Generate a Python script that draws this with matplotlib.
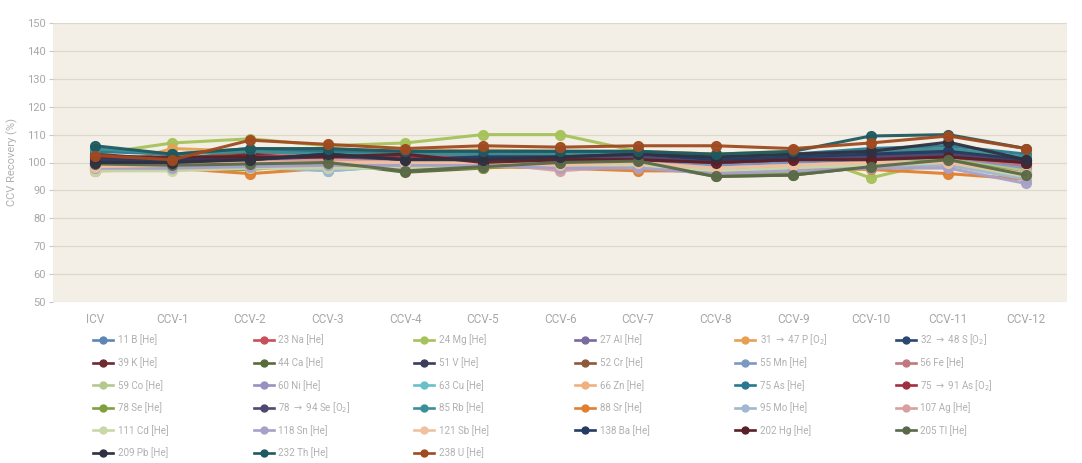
import matplotlib
matplotlib.use("Agg")
import matplotlib.pyplot as plt
from matplotlib.lines import Line2D

plt.rcParams['font.family'] = ['Roboto', 'DejaVu Sans']

# Sample points
points = ['ICV', 'CCV-1', 'CCV-2', 'CCV-3', 'CCV-4', 'CCV-5', 'CCV-6',
          'CCV-7', 'CCV-8', 'CCV-9', 'CCV-10', 'CCV-11', 'CCV-12']

# Recovery values (%) per element
b11 = [100, 99, 100, 101, 102, 101, 101, 102, 100, 101, 101, 102, 99]
na23 = [101, 100, 103, 104, 103, 102, 102, 102, 101, 101, 102, 103, 100]
mg24 = [103, 107, 108.5, 106, 107, 110, 110, 104, 103, 104, 94.5, 101, 97]
al27 = [99, 99, 100, 100, 101, 100, 101, 101, 99, 100, 101, 101, 97]
p31 = [97.5, 105, 104, 105, 104, 104.5, 104, 104, 103, 103, 104, 105, 101]
s32 = [100, 101, 101, 103, 101, 102, 103, 103, 101, 102, 103, 103, 100]
k39 = [103, 101, 103, 101, 102, 99, 100, 100, 100, 101, 102, 102, 99]
ca44 = [99, 98, 98, 100, 96.5, 98, 100, 100, 95, 95.5, 98.5, 101, 95.5]
v51 = [100, 100, 101, 102, 102, 103, 102, 103, 102, 102, 103, 104, 101]
cr52 = [102, 101, 104, 104, 103, 103, 103, 103, 102, 102, 104, 104, 101]
mn55 = [99, 99, 100, 101, 100, 101, 100, 101, 99, 100, 101, 102, 98]
fe56 = [101, 100, 102, 103, 102, 102, 101, 102, 100, 101, 102, 102, 99]
co59 = [98, 98, 99, 100, 100, 100, 99, 100, 98, 99, 100, 101, 97]
ni60 = [98.5, 98.5, 99, 100, 99, 100, 99, 100, 98, 98, 99, 100, 96]
cu63 = [98, 98, 99, 97, 99, 99, 99, 99, 97, 98, 99, 99, 96]
zn66 = [97, 97.5, 98, 99, 99, 99, 98, 99, 97, 98, 99, 99, 96]
as75 = [104, 103, 105, 104, 104, 104, 104, 104, 102, 103, 105, 106, 103]
as91 = [102, 101, 102, 101, 102, 101, 101, 101, 100, 101, 102, 102, 100]
se78 = [98, 97.5, 97.5, 99.5, 98, 98, 99.5, 100, 96, 96, 99, 101, 96]
se94 = [100, 100, 101, 102, 101, 102, 101, 102, 100, 101, 102, 103, 100]
rb85 = [105, 103, 104, 103, 103, 103, 103, 103, 102, 102, 104, 105, 102]
sr88 = [97, 98, 96, 98, 98.5, 98.5, 98, 97, 97, 98, 97.5, 96, 94]
mo95 = [98, 98, 98.5, 97, 99, 99, 98, 99, 97, 98, 99, 99, 94]
ag107 = [99, 99, 100, 101, 100, 100, 97, 99, 98, 99, 100, 100, 95]
cd111 = [97, 97, 98, 98, 98, 99, 99, 99, 97, 98, 99, 100, 95]
sn118 = [98, 98, 98.5, 99, 99, 99, 98, 98, 96, 97, 98, 98, 92.5]
sb121 = [98.5, 99, 100, 100, 100, 100, 99, 100, 98, 99, 100, 100, 96]
ba138 = [101, 101, 101, 103, 101, 102, 102, 103, 101, 102, 103, 104, 101]
hg202 = [102, 102, 102, 102, 103, 100, 101, 101, 100, 101, 101, 102, 100]
tl205 = [99.5, 99, 99.5, 100, 97, 98.5, 100, 100.5, 95, 95.5, 98.5, 101, 95.5]
pb209 = [100, 100, 101, 103, 101, 101, 102, 103, 102, 103, 104, 107.3, 101]
th232 = [106, 103, 105, 105, 104, 104, 104, 104, 103, 104, 109.5, 110, 105]
u238 = [102.5, 101, 108, 106.5, 105, 106, 105.5, 106, 106, 105, 107, 109.5, 105]

labels = ['11 B [He]', '23 Na [He]', '24 Mg [He]', '27 Al [He]',
          r'31 $\rightarrow$ 47 P [O$_2$]', r'32 $\rightarrow$ 48 S [O$_2$]',
          '39 K [He]', '44 Ca [He]', '51 V [He]', '52 Cr [He]', '55 Mn [He]', '56 Fe [He]',
          '59 Co [He]', '60 Ni [He]', '63 Cu [He]', '66 Zn [He]', '75 As [He]',
          r'75 $\rightarrow$ 91 As [O$_2$]',
          '78 Se [He]', r'78 $\rightarrow$ 94 Se [O$_2$]', '85 Rb [He]', '88 Sr [He]',
          '95 Mo [He]', '107 Ag [He]',
          '111 Cd [He]', '118 Sn [He]', '121 Sb [He]', '138 Ba [He]', '202 Hg [He]', '205 Tl [He]',
          '209 Pb [He]', '232 Th [He]', '238 U [He]']
series = [b11, na23, mg24, al27, p31, s32, k39, ca44, v51, cr52, mn55, fe56,
          co59, ni60, cu63, zn66, as75, as91, se78, se94, rb85, sr88, mo95, ag107,
          cd111, sn118, sb121, ba138, hg202, tl205, pb209, th232, u238]
colors = ['#5b86b5', '#c8505a', '#a6c25a', '#7a6aa0', '#e8a050', '#2c4870',
          '#6e2a30', '#5a6b3a', '#3c3c5c', '#8c5a3a', '#7c98c0', '#c07880',
          '#b4c890', '#9a90c0', '#68c0c8', '#f0b080', '#2a7890', '#a03040',
          '#80a040', '#504870', '#3a9098', '#e08030', '#a0b8d0', '#d8a0a0',
          '#c8d8a8', '#a8a0c8', '#f0c0a0', '#243c64', '#5a2028', '#5a6a48',
          '#303040', '#1e5a60', '#a04a20']

W, H = 1082, 463
fig = plt.figure(figsize=(W / 100, H / 100), dpi=100)
ax = fig.add_axes([53 / W, 1 - 302 / H, (1067 - 53) / W, (302 - 23) / H])
ax.set_facecolor('#f3efe6')

x = range(len(points))
for vals, c in zip(series, colors):
    ax.plot(x, vals, color=c, lw=2.2, marker='o', ms=7, alpha=0.95)

ax.set_xlim(-0.54, len(points) - 1 + 0.53)
ax.set_ylim(50, 150)
ax.set_yticks(range(50, 151, 10))
ax.set_xticks(list(x))
ax.set_xticklabels(points)
ax.grid(axis='y', color='#ddd8cc', lw=0.9)
ax.set_axisbelow(True)
for s in ax.spines.values():
    s.set_visible(False)
ax.tick_params(axis='y', colors='#c8c8c8', labelcolor='#a8a8a8', labelsize=8, length=3, pad=2)
ax.tick_params(axis='x', length=0, labelcolor='#a8a8a8', labelsize=8.5, pad=8)
ax.set_ylabel('CCV Recovery (%)', color='#b0b0b0', fontsize=8, labelpad=7)

# legend laid out row by row, six columns
for i, (lab, c) in enumerate(zip(labels, colors)):
    row, col = divmod(i, 6)
    px = 103 + 160.5 * col
    py = 340 + 22.6 * row
    fx, fy = px / W, 1 - py / H
    fig.add_artist(Line2D([fx - 10 / W, fx + 10 / W], [fy, fy], color=c, lw=1.9,
                          transform=fig.transFigure))
    fig.add_artist(Line2D([fx], [fy], color=c, marker='o', ms=5,
                          transform=fig.transFigure))
    fig.text(fx + 15 / W, fy, lab, color='#b0b0b0', fontsize=7, va='center', ha='left')

fig.savefig('out.png', dpi=100, facecolor='white')
